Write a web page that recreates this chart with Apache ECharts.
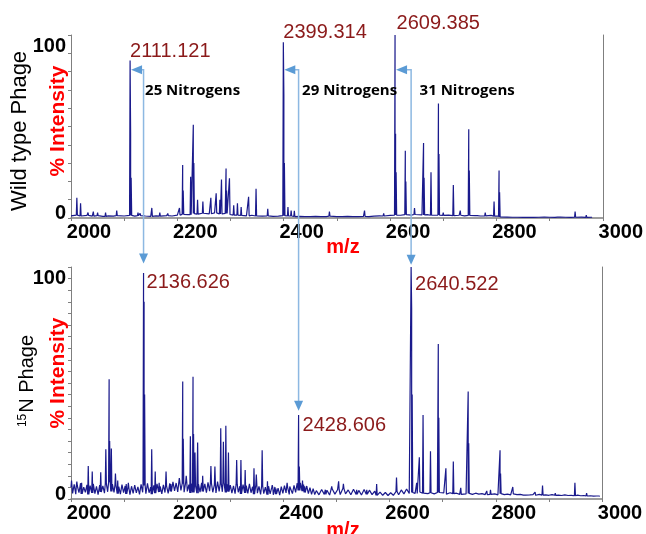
<!DOCTYPE html>
<html>
<head>
<meta charset="utf-8">
<script src="https://cdn.jsdelivr.net/npm/echarts@6.0.0/dist/echarts.min.js"></script>
<style>
html, body { margin: 0; padding: 0; background: #fff; }
#chart { width: 646px; height: 534px; }
</style>
</head>
<body>
<div id="chart"></div>
<script>
// top spectrum: wild type phage (m/z, % intensity)
const topPeakMz = [2011, 2018, 2032, 2042, 2050, 2065, 2086, 2111.121, 2112.12, 2113.12, 2126, 2130, 2152, 2167, 2182,
  2204, 2210, 2211, 2225, 2230, 2231, 2238, 2248, 2263, 2273, 2280, 2283, 2291.6, 2292.6, 2298, 2306, 2313, 2320,
  2334, 2348, 2370, 2399.314, 2400.31, 2401.31, 2408, 2414, 2420, 2486, 2552, 2588, 2609.385, 2610.39, 2611.39,
  2628.7, 2629.7, 2646, 2663, 2664, 2677, 2691, 2692, 2700, 2719, 2732, 2748, 2749, 2765, 2779, 2795.6, 2805, 2806,
  2916, 2948, 2969];
const topPeakInt = [11, 8, 3, 3.5, 3, 3, 4, 86, 46, 22, 3, 2.5, 5.5, 3, 2.5,
  5.5, 29, 15, 22.6, 51, 30, 10, 9, 11, 13.5, 10, 21, 27, 15, 21.7, 7, 8, 6,
  11.6, 16, 5, 96, 67, 30, 6, 4, 4, 3.5, 4, 2.5, 100, 46, 25,
  36.8, 20, 5.5, 41, 22, 25, 62.6, 35, 3, 18, 4, 48.5, 26, 2, 3, 9, 26, 14,
  1, 3.5, 1.5];
// baseline of the top trace, one value every 10 m/z from 2000
const topBaseStart = 2000, topBaseStep = 10;
const topBase = [
  1.2, 1.6, 1.1, 1.4, 1.0, 1.3, 0.9, 1.2, 1.0, 1.3,
  1.1, 1.4, 1.0, 1.3, 1.1, 0.9, 1.2, 1.0, 1.3, 1.1,
  1.6, 2.0, 1.8, 2.4, 2.1, 2.6, 2.3, 2.8, 2.2, 2.5,
  1.9, 1.6, 1.4, 1.2, 1.5, 1.1, 1.0, 1.2, 0.9, 1.0,
  1.3, 1.1, 0.8, 0.9, 0.7, 0.8, 0.9, 0.7, 0.8, 1.0,
  0.8, 0.7, 0.9, 0.8, 0.7, 0.9, 0.8, 1.0, 1.2, 1.1,
  1.4, 1.6, 1.5, 1.8, 1.6, 1.9, 1.7, 1.8, 1.5, 1.6,
  1.4, 1.6, 1.3, 1.5, 1.2, 1.4, 1.3, 1.1, 1.2, 1.4,
  1.0, 0.6, 0.5, 0.4, 0.4, 0.3, 0.4, 0.3, 0.4, 0.5,
  0.4, 0.3, 0.5, 0.4, 0.3, 0.4, 0.5, 0.3, 0.4];

// bottom spectrum: 15N phage
const botPeakMz = [2001, 2011, 2020, 2032.5, 2040, 2056, 2065.6, 2071.8, 2072.8, 2076, 2083.7, 2088, 2104, 2108,
  2136.626, 2137.63, 2138.63, 2152, 2158.6, 2166, 2179, 2188, 2204, 2210.4, 2211.4, 2217, 2224.8, 2229.8, 2230.8,
  2233.5, 2238.5, 2248, 2263.5, 2271, 2282, 2287, 2291.6, 2296.5, 2312, 2320, 2328, 2344.6, 2349, 2360, 2370,
  2379, 2386, 2407, 2413, 2428.606, 2430, 2436, 2440, 2479, 2491, 2504, 2513, 2538, 2557, 2575.6, 2613,
  2640.522, 2641.52, 2642.52, 2651, 2656, 2663, 2677, 2691.7, 2692.7, 2706, 2720, 2734, 2748, 2749, 2783, 2790,
  2808, 2809, 2832, 2855, 2874, 2888, 2912, 2949, 2971, 2993];
const botPeakInt = [8, 7.5, 7, 14.2, 11.8, 11.5, 21.4, 51.6, 25, 21.8, 11, 8, 6.5, 7,
  97.4, 85, 45, 21.4, 11.8, 7, 11.8, 6.5, 9, 50.6, 26, 10, 27, 52.7, 28,
  20, 24.3, 10, 14.2, 14, 30.5, 24.7, 31.6, 20, 16.8, 16.8, 12.5, 13.2, 10.5, 21, 7.6,
  6, 4.5, 7, 6, 36.2, 14, 8, 5.5, 4, 5.5, 7.6, 6.5, 4, 4, 6.5, 9.3,
  100, 82, 45, 7, 18, 36.2, 20.6, 66.8, 35, 13.2, 16.2, 4.8, 46.3, 24, 3.5, 4,
  21, 11, 5.2, 2, 3, 5.8, 2.5, 7, 2.5, 2];
// noise floor of the bottom trace, in three stretches
const noiseAStart = 2000, noiseAStep = 3;
const noiseA = [
  5.2, 2.4, 6.3, 2.1, 5.6, 2.7, 6.8, 2.2, 5.1, 2.9, 6.1, 2.0, 5.8, 2.6, 6.5, 2.3, 5.4, 1.9, 6.0, 3.0,
  5.7, 2.5, 6.6, 3.1, 7.2, 3.3, 6.4, 2.8, 5.9, 2.3, 5.3, 2.1, 6.2, 2.7, 5.6, 2.2, 4.8, 1.9, 5.5, 2.4,
  6.0, 2.6, 5.2, 2.0, 6.3, 2.9, 5.8, 2.3, 6.7, 2.7, 5.1, 2.1, 5.9, 2.5, 6.5, 3.0, 5.4, 2.2, 6.1, 2.8,
  5.6, 2.4, 6.8, 3.2, 7.4, 3.5, 6.9, 3.1, 7.1, 3.7, 6.6, 2.9, 7.3, 3.3, 6.2, 2.6, 6.7, 2.8, 5.8, 2.5,
  6.4, 3.0, 7.0, 3.2, 6.5, 2.7, 7.2, 3.4, 6.8, 2.9, 6.1, 2.6, 7.5, 3.3, 6.6, 3.1, 7.1, 2.8, 6.3, 3.2,
  6.0, 2.5, 5.7, 2.3, 6.4, 2.9, 5.5, 2.2, 6.2, 2.6, 5.8, 2.4, 6.5, 2.7, 5.3, 2.1, 5.9, 2.5, 5.4, 2.0,
  5.6, 2.3, 5.1, 1.9, 5.5, 2.2, 4.9, 1.8, 5.2, 2.1, 4.7, 1.7, 5.3, 2.4, 5.8, 2.6, 5.0, 2.0, 5.4, 2.3,
  5.9, 2.9, 6.8, 3.7, 7.0, 3.4, 6.2, 2.8, 5.6, 2.3, 4.9, 2.0, 4.5, 1.9];
const noiseBStart = 2462, noiseBStep = 5;
const noiseB = [
  3.6, 1.8, 4.1, 2.0, 3.8, 1.7, 4.3, 2.1, 4.0, 1.9, 4.5, 2.2, 3.9, 1.8, 4.2, 2.0, 3.7, 1.7,
  4.1, 2.1, 3.8, 1.9, 3.4, 1.6, 3.0, 1.6, 2.8, 1.5, 2.7, 1.6, 3.2, 1.8, 3.9, 2.2, 4.3, 2.4];
const noiseCStart = 2642, noiseCStep = 6;
const noiseC = [
  2.8, 2.4, 3.0, 2.5, 2.9, 2.3, 2.7, 2.2, 2.8, 2.4, 2.6, 2.1, 2.7, 2.3, 2.5, 2.0, 2.6, 2.2, 2.4, 2.0,
  2.5, 2.1, 2.3, 1.9, 2.4, 2.0, 2.2, 1.8, 2.3, 1.9, 2.1, 1.8, 2.2, 1.9, 2.0, 1.7, 2.1, 1.8, 1.9, 1.6,
  2.0, 1.7, 1.8, 1.6, 1.9, 1.6, 1.7, 1.5, 1.8, 1.5, 1.6, 1.4, 1.7, 1.4, 1.5, 1.3, 1.4, 1.2, 1.3, 1.2];

// annotations
const topLabelMz = [2111.121, 2399.314, 2609.385];
const botLabelMz = [2136.626, 2428.606, 2640.522];
const nitrogenText = ['25 Nitrogens', '29 Nitrogens', '31 Nitrogens'];
const arrowLevel = 81;                  // % intensity of the horizontal arrow legs (top panel)
const arrowTipInt = [101.5, 38, 101];   // % intensity where the down arrows end (bottom panel)

function segment(start, step, vals) {
  return vals.map((v, i) => [start + i * step, v]);
}

function buildSpectrum(base, peakMz, peakInt) {
  const pts = base.filter(p => !peakMz.some(m => Math.abs(m - p[0]) < 1.2));
  peakMz.forEach((m, i) => {
    let near = base[0];
    base.forEach(p => { if (Math.abs(p[0] - m) < Math.abs(near[0] - m)) near = p; });
    pts.push([m - 1, near[1]], [m, peakInt[i]], [m + 1, near[1]]);
  });
  pts.sort((a, b) => a[0] - b[0]);
  return pts;
}

const topData = buildSpectrum(segment(topBaseStart, topBaseStep, topBase), topPeakMz, topPeakInt);
const botData = buildSpectrum(
  segment(noiseAStart, noiseAStep, noiseA)
    .concat(segment(noiseBStart, noiseBStep, noiseB))
    .concat(segment(noiseCStart, noiseCStep, noiseC)),
  botPeakMz, botPeakInt);

const axisGrey = '#7f7f7f';
const tickFont = { fontSize: 20, fontWeight: 'bold', fontFamily: 'Arial', color: '#000' };

function xAxisFor(gi) {
  return {
    gridIndex: gi, type: 'value', min: 2000, max: 3000, interval: 200,
    axisLine: { show: true, onZero: false, lineStyle: { color: axisGrey, width: 1.5 } },
    axisTick: { show: true, length: 3, lineStyle: { color: axisGrey } },
    minorTick: { show: true, splitNumber: 2, length: 3, lineStyle: { color: axisGrey } },
    splitLine: { show: false },
    axisLabel: {
      margin: 4,
      formatter: v => '{t|' + v + '}',
      rich: { t: Object.assign({ padding: [0, 0, 0, 36] }, tickFont) }
    }
  };
}

function yAxisFor(gi, step) {
  return {
    gridIndex: gi, type: 'value', min: 0, max: 100, interval: step,
    axisLine: { show: true, lineStyle: { color: axisGrey } },
    axisTick: { show: true, length: 3, lineStyle: { color: axisGrey } },
    splitLine: { show: false },
    axisLabel: {
      margin: 5,
      formatter: v => v === 100 ? '{a|100}' : (v === 0 ? '{b|0}' : ''),
      rich: {
        a: Object.assign({ padding: [22, 0, 0, 0] }, tickFont),
        b: Object.assign({ padding: [0, 0, 9, 0] }, tickFont)
      }
    }
  };
}

function rightBorder(gi) {
  return {
    gridIndex: gi, type: 'value', min: 0, max: 100, position: 'right',
    axisLine: { show: true, lineStyle: { color: axisGrey } },
    axisTick: { show: false }, axisLabel: { show: false }, splitLine: { show: false }
  };
}

const chart = echarts.init(document.getElementById('chart'));
chart.setOption({
  animation: false,
  backgroundColor: '#fff',
  grid: [
    { left: 71, right: 42, top: 35, height: 183 },
    { left: 71, right: 44, top: 267, height: 232 }
  ],
  xAxis: [xAxisFor(0), xAxisFor(1)],
  yAxis: [yAxisFor(0, 10), rightBorder(0), yAxisFor(1, 5), rightBorder(1)],
  series: [
    {
      type: 'line', xAxisIndex: 0, yAxisIndex: 0, data: topData,
      showSymbol: false, symbol: 'none',
      lineStyle: { color: '#1a1a8c', width: 1.2 }
    },
    {
      type: 'line', xAxisIndex: 1, yAxisIndex: 2, data: botData,
      showSymbol: false, symbol: 'none',
      lineStyle: { color: '#1a1a8c', width: 1.2 }
    }
  ]
});

const topPx = p => chart.convertToPixel({ xAxisIndex: 0, yAxisIndex: 0 }, p);
const botPx = p => chart.convertToPixel({ xAxisIndex: 1, yAxisIndex: 2 }, p);

const els = [];
const arrowLine = '#8db8e2', arrowHead = '#5b9bd5';
const topLabelOff = [[0, -9], [0, -10], [1.5, -12]];
const botLabelOff = [[3, 9], [4, 10], [4, 17]];
const nitroDx = [1.5, 3.5, 8.5];

topLabelMz.forEach((mz, i) => {
  const topI = topPeakInt[topPeakMz.indexOf(mz)];
  const botMz = botLabelMz[i];
  const botI = botPeakInt[botPeakMz.indexOf(botMz)];
  const [xt, yh] = topPx([mz, arrowLevel]);
  const [xv] = botPx([botMz, 0]);
  const yTip = botPx([botMz, arrowTipInt[i]])[1];

  els.push({ type: 'polyline', z: 50, shape: { points: [[xt + 10, yh], [xv, yh], [xv, yTip - 9]] },
    style: { stroke: arrowLine, lineWidth: 1.5, fill: null } });
  els.push({ type: 'polygon', z: 51, shape: { points: [[xt + 1, yh], [xt + 12, yh - 4.5], [xt + 12, yh + 4.5]] },
    style: { fill: arrowHead } });
  els.push({ type: 'polygon', z: 51, shape: { points: [[xv, yTip], [xv - 4.5, yTip - 10], [xv + 4.5, yTip - 10]] },
    style: { fill: arrowHead } });

  const [lx, ly] = topPx([mz, topI]);
  els.push({ type: 'text', z: 52, x: lx + topLabelOff[i][0], y: ly + topLabelOff[i][1],
    style: { text: mz.toFixed(3), fontSize: 20, fontFamily: 'Arial', fill: '#8b1a1a', align: 'left', verticalAlign: 'middle' } });
  const [bx, by] = botPx([botMz, botI]);
  els.push({ type: 'text', z: 52, x: bx + botLabelOff[i][0], y: by + botLabelOff[i][1],
    style: { text: botMz.toFixed(3), fontSize: 20, fontFamily: 'Arial', fill: '#8b1a1a', align: 'left', verticalAlign: 'middle' } });

  els.push({ type: 'text', z: 52, x: xv + nitroDx[i], y: 91,
    style: { text: nitrogenText[i], fontSize: 15, fontWeight: 'bold', fontFamily: 'Open Sans', fill: '#000', align: 'left', verticalAlign: 'middle' } });
});

// axis titles
els.push({ type: 'text', x: 20, y: 131, rotation: Math.PI / 2,
  style: { text: 'Wild type Phage', fontSize: 22, fontFamily: 'Arial', fill: '#000', align: 'center', verticalAlign: 'middle' } });
els.push({ type: 'text', x: 58, y: 121, rotation: Math.PI / 2,
  style: { text: '% Intensity', fontSize: 21, fontWeight: 'bold', fontFamily: 'Arial', fill: '#ff0000', align: 'center', verticalAlign: 'middle' } });
els.push({ type: 'text', x: 27, y: 381, rotation: Math.PI / 2,
  style: { text: '{s|15}{n|N Phage}', align: 'center', verticalAlign: 'middle',
    rich: {
      s: { fontSize: 12, fontFamily: 'Arial', fill: '#000', padding: [0, 1, 9, 0] },
      n: { fontSize: 20, fontFamily: 'Arial', fill: '#000' }
    } } });
els.push({ type: 'text', x: 58, y: 373, rotation: Math.PI / 2,
  style: { text: '% Intensity', fontSize: 21, fontWeight: 'bold', fontFamily: 'Arial', fill: '#ff0000', align: 'center', verticalAlign: 'middle' } });
els.push({ type: 'text', x: 343, y: 247,
  style: { text: 'm/z', fontSize: 20, fontWeight: 'bold', fontFamily: 'Arial', fill: '#ff0000', align: 'center', verticalAlign: 'middle' } });
els.push({ type: 'text', x: 343, y: 530,
  style: { text: 'm/z', fontSize: 20, fontWeight: 'bold', fontFamily: 'Arial', fill: '#ff0000', align: 'center', verticalAlign: 'middle' } });

chart.setOption({ graphic: els });
</script>
</body>
</html>
